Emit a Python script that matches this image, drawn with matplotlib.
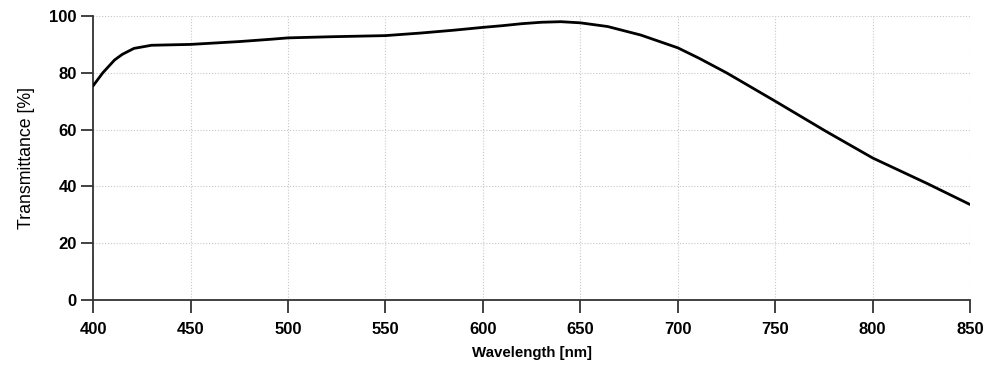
import matplotlib
matplotlib.use("Agg")
import matplotlib.pyplot as plt

wavelength = [400, 405, 411, 415, 421, 430, 450, 475, 491, 500, 522, 550, 568, 585,
              600, 610, 620, 630, 640, 650, 664, 681, 700, 711, 725, 750, 776, 800, 828, 850]
transmittance = [75.4, 80.0, 84.5, 86.5, 88.6, 89.7, 90.0, 91.0, 91.8, 92.3, 92.7, 93.1, 94.0, 95.0,
                 96.0, 96.6, 97.3, 97.8, 98.0, 97.6, 96.3, 93.3, 88.8, 85.1, 80.0, 70.0, 59.4, 50.0, 41.0, 33.6]

xticks = [400, 450, 500, 550, 600, 650, 700, 750, 800, 850]
yticks = [0, 20, 40, 60, 80, 100]
xlabel = 'Wavelength [nm]'
ylabel = 'Transmittance [%]'

plt.rcParams['font.family'] = ['Liberation Sans', 'DejaVu Sans']

fig = plt.figure(figsize=(9.92, 3.69), dpi=100)
ax = fig.add_axes([0.0938, 0.187, 0.978 - 0.0938, 0.9566 - 0.187])

ax.plot(wavelength, transmittance, color='black', lw=2.0, solid_capstyle='round', solid_joinstyle='round', zorder=3)

ax.set_xlim(400, 850)
ax.set_ylim(0, 100)
ax.set_xticks(xticks)
ax.set_yticks(yticks)
ax.grid(True, which='major', color='#c8c8c8', linestyle=(0, (1, 1.6)), lw=0.8)
ax.set_axisbelow(True)

for s in ['top', 'right']:
    ax.spines[s].set_visible(False)
for s in ['left', 'bottom']:
    ax.spines[s].set_linewidth(1.3)
    ax.spines[s].set_color('#333333')

ax.tick_params(axis='x', direction='out', length=9.5, width=1.3, color='#333333', labelsize=12, pad=6.5)
ax.tick_params(axis='y', direction='out', length=8.3, width=1.3, color='#333333', labelsize=12, pad=3.5)
for lab in ax.get_xticklabels() + ax.get_yticklabels():
    lab.set_fontweight('bold')

ax.set_xlabel(xlabel, fontsize=10.8, fontweight='bold', labelpad=6.5)
ax.set_ylabel(ylabel, fontsize=12.8, labelpad=10.3)

fig.savefig('out.png', dpi=100)
